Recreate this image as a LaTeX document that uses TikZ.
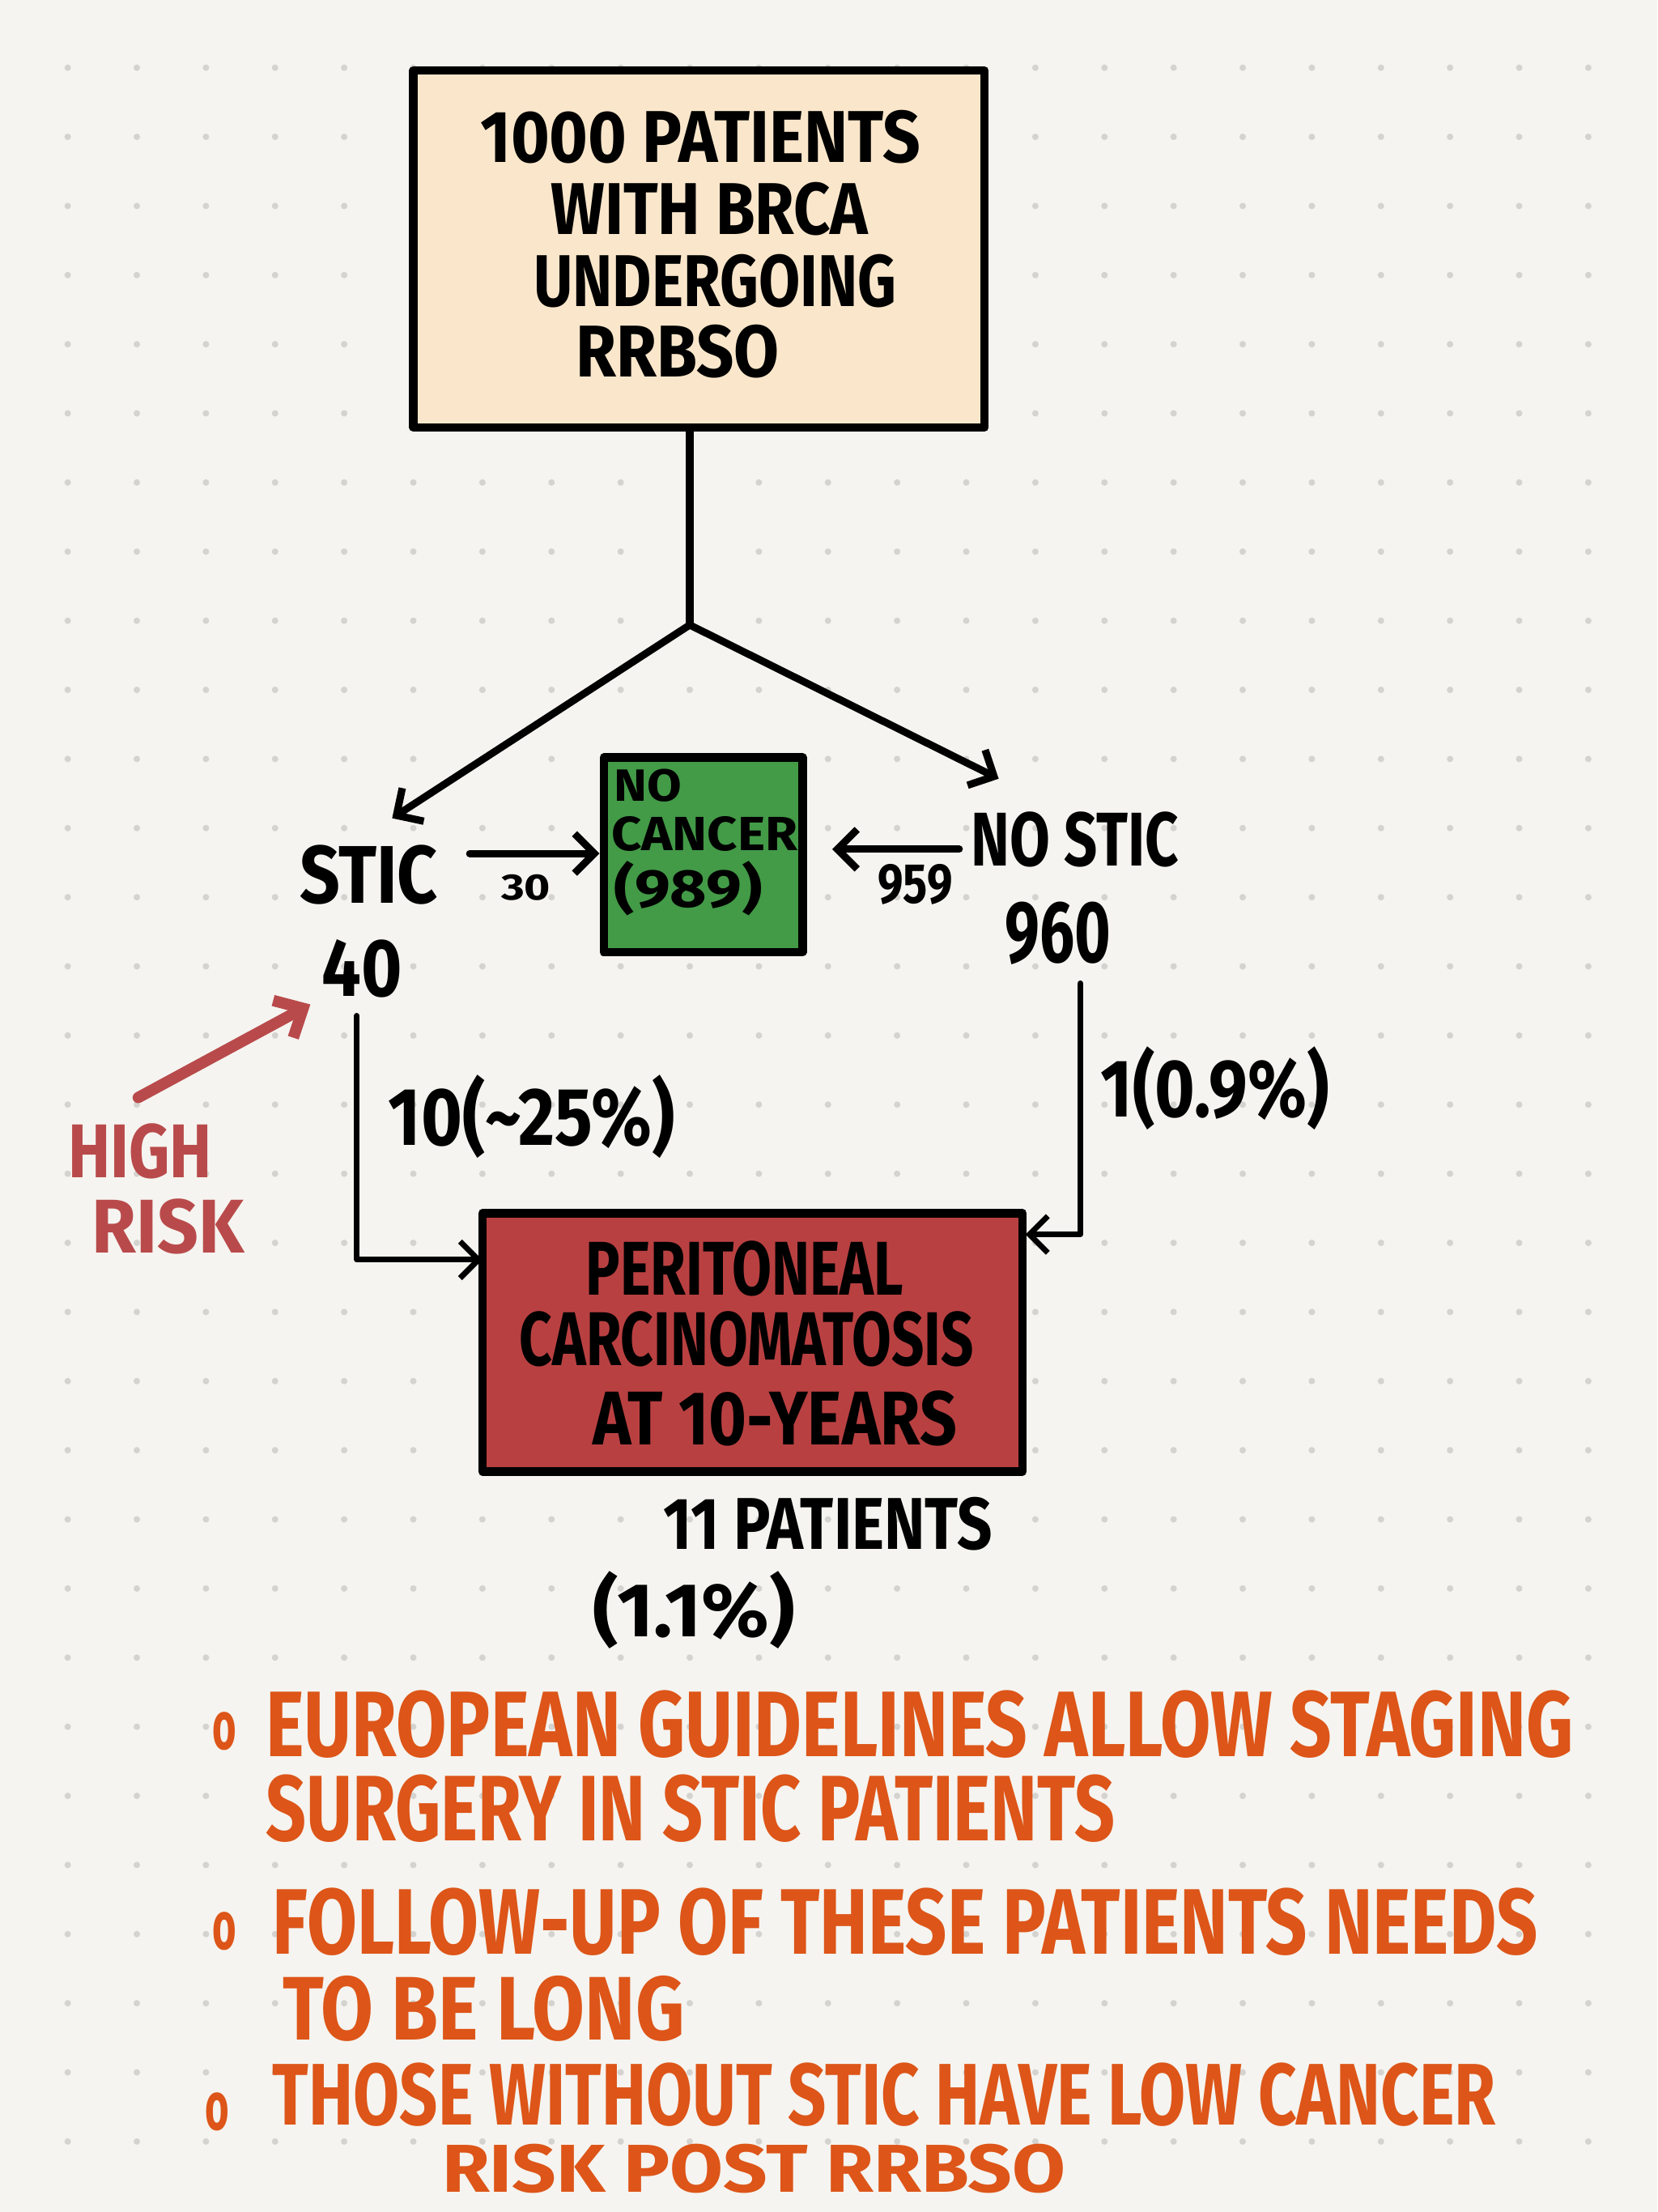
\documentclass[tikz,border=0pt]{standalone}
\usepackage{fontspec}
\usepackage{graphicx}
\setmainfont{Fira Sans}
\usetikzlibrary{arrows.meta,fit}
\definecolor{bg}{HTML}{F5F4F0}
\definecolor{dotc}{HTML}{D4D3CF}
\definecolor{peach}{HTML}{FAE7CB}
\definecolor{gbox}{HTML}{439A47}
\definecolor{rbox}{HTML}{B94041}
\definecolor{risk}{HTML}{B94A4B}
\definecolor{orng}{HTML}{DD5518}
% #1 target width (px), #2 font size (pt), #3 text
\newcommand\tx[3]{\fontsize{#2}{#2}\selectfont\resizebox{\dimexpr #1pt/2\relax}{\height}{#3}}
\begin{document}
\begin{tikzpicture}[x=0.5pt,y=-0.5pt,
  box/.style={draw=black, line width=3pt, inner sep=0pt, line join=round},
  conn/.style={line width=2.6pt, black, line cap=round, line join=round},
  thin/.style={line width=2pt, black, line cap=round, line join=round},
  arr/.style={conn, -{Straight Barb[length=7pt,width=14pt]}},
  arrthin/.style={thin, -{Straight Barb[length=6.5pt,width=13pt]}},
  riskarr/.style={line width=4pt, risk, line cap=round, -{Straight Barb[length=8pt,width=15pt]}},
  t/.style={inner sep=0pt, anchor=base west, font=\bfseries, text=black},
  ot/.style={t, text=orng},
]
\fill[bg] (0,0) rectangle (1175,1568);
\useasboundingbox (0,0) rectangle (1175,1568);
\foreach \i in {0,...,22} \foreach \j in {0,...,30}
  \fill[dotc] (48+49*\i,48+49*\j) circle (1.15pt);

% boxes
\node[box, fill=peach, fit={(293,50) (698,303)}] (top) {};
\node[box, fill=gbox, fit={(428,537) (569,675)}] (nc) {};
\node[box, fill=rbox, fit={(342,860) (725,1043)}] (pc) {};

% top box text
\node[t] (top1) at (340,115) {\tx{312}{26}{1000 PATIENTS}};
\node[t] (top2) at (390,166) {\tx{225}{26}{WITH BRCA}};
\node[t] (top3) at (378,217) {\tx{257}{26}{UNDERGOING}};
\node[t] (top4) at (408,267) {\tx{144}{26}{RRBSO}};

% branch nodes
\node[t] (stic) at (212,640) {\tx{98}{29}{STIC}};
\node[t] (n40) at (228,706) {\tx{57}{29}{40}};
\node[t] (nostic) at (688,614) {\tx{147}{27}{NO STIC}};
\node[t] (n960) at (712,682) {\tx{75}{31}{960}};

% green box text
\node[t] (nc1) at (435,568) {\tx{48}{16}{NO}};
\node[t] (nc2) at (433,603) {\tx{132}{17}{CANCER}};
\node[t] (nc3) at (435,643) {\tx{105}{19}{(989)}};

% connectors top
\coordinate (apex) at (489,443);
\coordinate (aS) at (278,580);
\coordinate (aN) at (708,552);
\draw[conn] (top.south -| apex) -- (apex);
\draw[arr] (apex) -- (aS);
\draw[arr] (apex) -- (aN);

% horizontal arrows
\coordinate (s30) at (333,605);
\draw[arr] (s30) -- (nc.west |- s30);
\node[t] (l30) at (355,638) {\tx{35}{13}{30}};
\coordinate (e959) at (680,602);
\coordinate (t959) at (590,602);
\draw[arr] (e959) -- (t959);
\node[t] (l959) at (622,640) {\tx{53}{20}{959}};

% red box text
\node[t] (pc1) at (415,918) {\tx{225}{27}{PERITONEAL}};
\node[t] (pc2) at (368,968) {\tx{322}{27}{CARCINOMATOSIS}};
\node[t] (pc3) at (420,1024) {\tx{258}{27}{AT 10-YEARS}};

% elbow connectors
\coordinate (ls) at (253,720);
\coordinate (lt) at (342,893);
\draw[arrthin] (ls) |- (lt);
\node[t] (l10) at (275,812) {\tx{203}{29}{10(\textasciitilde25\%)}};
\coordinate (rs) at (766,697);
\coordinate (rt) at (727,875);
\draw[arrthin] (rs) |- (rt);
\node[t] (l1) at (780,792) {\tx{162}{29}{1(0.9\%)}};

% result
\node[t] (l11) at (470,1098) {\tx{233}{26}{11 PATIENTS}};
\node[t] (l11b) at (420,1160) {\tx{143}{27}{(1.1\%)}};

% high risk
\node[t, text=risk] (hr1) at (48,835) {\tx{102}{27}{HIGH}};
\node[t, text=risk] (hr2) at (65,888) {\tx{108}{27}{RISK}};
\coordinate (hr0) at (98,778);
\coordinate (hrt) at (220,712);
\draw[riskarr] (hr0) -- (hrt);

% bullets
\node[ot] (o1) at (150,1240) {\tx{17}{24}{o}};
\node[ot] (b1) at (188,1245) {\tx{927}{33}{EUROPEAN GUIDELINES ALLOW STAGING}};
\node[ot] (b2) at (188,1305) {\tx{602}{33}{SURGERY IN STIC PATIENTS}};
\node[ot] (o2) at (150,1382) {\tx{17}{24}{o}};
\node[ot] (b3) at (193,1385) {\tx{897}{33}{FOLLOW-UP OF THESE PATIENTS NEEDS}};
\node[ot] (b4) at (200,1446) {\tx{285}{32}{TO BE LONG}};
\node[ot] (o3) at (145,1510) {\tx{17}{24}{o}};
\node[ot] (b5) at (193,1506) {\tx{867}{31}{THOSE WITHOUT STIC HAVE LOW CANCER}};
\node[ot] (b6) at (313,1554) {\tx{442}{24}{RISK POST RRBSO}};
\end{tikzpicture}
\end{document}
